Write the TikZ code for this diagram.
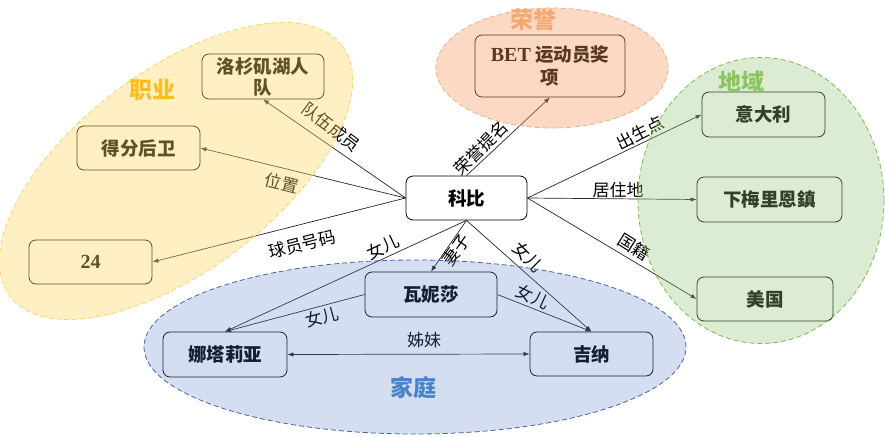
\documentclass[tikz,border=0pt]{standalone}
\usepackage{fontspec}
\newfontfamily\cjk{Noto Sans CJK SC}
\newfontfamily\serifb{Liberation Serif}
\usetikzlibrary{arrows.meta}
\definecolor{yfill}{RGB}{255,215,100}
\definecolor{ydraw}{RGB}{250,210,110}
\definecolor{ytext}{RGB}{255,190,30}
\definecolor{pfill}{RGB}{244,152,96}
\definecolor{pdraw}{RGB}{240,175,135}
\definecolor{ptext}{RGB}{245,168,115}
\definecolor{gfill}{RGB}{149,197,118}
\definecolor{gdraw}{RGB}{125,185,85}
\definecolor{gtext}{RGB}{140,196,95}
\definecolor{bfill}{RGB}{83,123,195}
\definecolor{bdraw}{RGB}{70,100,165}
\definecolor{btext}{RGB}{72,132,205}
\tikzset{
  box/.style={draw=black, line width=0.8pt, rounded corners=7pt, fill=white,
    align=center, inner sep=0pt, font=\cjk\bfseries\fontsize{18.5}{22}\selectfont},
  lat/.style={font=\serifb\bfseries\fontsize{20}{22}\selectfont},
  rel/.style={-{Latex[length=6pt,width=4.5pt]}, line width=0.7pt, draw=black!85},
  both/.style={{Latex[length=6pt,width=4.5pt]}-{Latex[length=6pt,width=4.5pt]}, line width=0.7pt, draw=black!85},
  lab/.style={inner sep=0pt, font=\cjk\fontsize{17}{20}\selectfont},
  grp/.style={font=\cjk\bfseries\fontsize{23}{25}\selectfont, inner sep=0pt},
  bdash/.style={line width=0.8pt, dash pattern=on 5pt off 3pt}
}
\begin{document}
\begin{tikzpicture}[x=1pt,y=-1pt]
\useasboundingbox (0,0) rectangle (885,436);
% nodes
\node[box, minimum width=121pt, minimum height=44pt] (kobe) at (466.5,198) {科比};
\node[box, minimum width=122pt, minimum height=45pt] (lakers) at (263,76.5) {洛杉矶湖人\\[-1pt]队};
\node[box, minimum width=123pt, minimum height=44pt] (sg) at (138.5,148) {得分后卫};
\node[box, minimum width=123pt, minimum height=44pt] (num) at (90.5,262) {\serifb\fontsize{20}{22}\selectfont 24};
\node[box, minimum width=150pt, minimum height=62pt] (bet) at (550,66) {{\serifb\fontsize{20}{22}\selectfont BET} 运动员奖\\[1pt]项};
\node[box, minimum width=123pt, minimum height=45pt] (italy) at (763.5,114.5) {意大利};
\node[box, minimum width=145pt, minimum height=45pt] (lm) at (769.5,199.5) {下梅里恩鎮};
\node[box, minimum width=136pt, minimum height=44pt] (usa) at (765,299) {美国};
\node[box, minimum width=132pt, minimum height=45pt] (van) at (431,294.5) {瓦妮莎};
\node[box, minimum width=124pt, minimum height=45pt] (nat) at (225,354.5) {娜塔莉亚};
\node[box, minimum width=123pt, minimum height=44pt] (gia) at (591.5,354) {吉纳};
% connectors
\draw[rel] (kobe.west) -- (lakers.south);
\draw[rel] (kobe.west) -- (sg.east);
\draw[rel] (kobe.west) -- (num.east);
\draw[rel] (kobe.north) -- (bet.south);
\draw[rel] (kobe.east) -- (italy.west);
\draw[rel] (kobe.east) -- (lm.west);
\draw[rel] (kobe.east) -- (usa.west);
\draw[rel] (kobe.south) -- (nat.north);
\draw[rel] (kobe.south) -- (van.north);
\draw[rel] (kobe.south) -- (gia.north);
\draw[rel] (van.west) -- (nat.north);
\draw[rel] (van.east) -- (gia.north);
\draw[both] (nat.east) -- (gia.west);
% labels
\node[lab, rotate=-37] (l1) at (331,127) {队伍成员};
\node[lab, rotate=-14] (l2) at (282,183) {位置};
\node[lab, rotate=14] (l3) at (302,244) {球员号码};
\node[lab, rotate=45] (l4) at (481,148) {荣誉提名};
\node[lab, rotate=27] (l5) at (640,133) {出生点};
\node[lab] (l6) at (618,190) {居住地};
\node[lab, rotate=-32] (l7) at (634,247) {国籍};
\node[lab, rotate=25] (l8) at (383,247) {女儿};
\node[lab, rotate=55] (l9) at (456,250) {妻子};
\node[lab, rotate=-45] (l10) at (528,257) {女儿};
\node[lab, rotate=15] (l11) at (322,317) {女儿};
\node[lab, rotate=-25] (l12) at (533,297) {女儿};
\node[lab] (l13) at (424,340) {姊妹};
% group ellipses (overlaid, translucent)
\fill[yfill, fill opacity=0.38, shift={(176,171)}, rotate=37] (0,0) ellipse [x radius=208pt, y radius=100pt];
\draw[ydraw, bdash, shift={(176,171)}, rotate=37] (0,0) ellipse [x radius=208pt, y radius=100pt];
\fill[pfill, fill opacity=0.37] (552,68) ellipse [x radius=116pt, y radius=60pt];
\draw[pdraw, bdash] (552,68) ellipse [x radius=116pt, y radius=60pt];
\fill[gfill, fill opacity=0.33] (761,200.5) ellipse [x radius=123pt, y radius=143pt];
\draw[gdraw, bdash] (761,200.5) ellipse [x radius=123pt, y radius=143pt];
\fill[bfill, fill opacity=0.25] (415,347) ellipse [x radius=271pt, y radius=87pt];
\draw[bdash, bdraw] (415,347) ellipse [x radius=271pt, y radius=87pt];
% group titles
\node[grp, text=ytext] (t1) at (152,90) {职业};
\node[grp, text=ptext] (t2) at (533,20) {荣誉};
\node[grp, text=gtext] (t3) at (741,82) {地域};
\node[grp, text=btext] (t4) at (413,388) {家庭};
\end{tikzpicture}
\end{document}
